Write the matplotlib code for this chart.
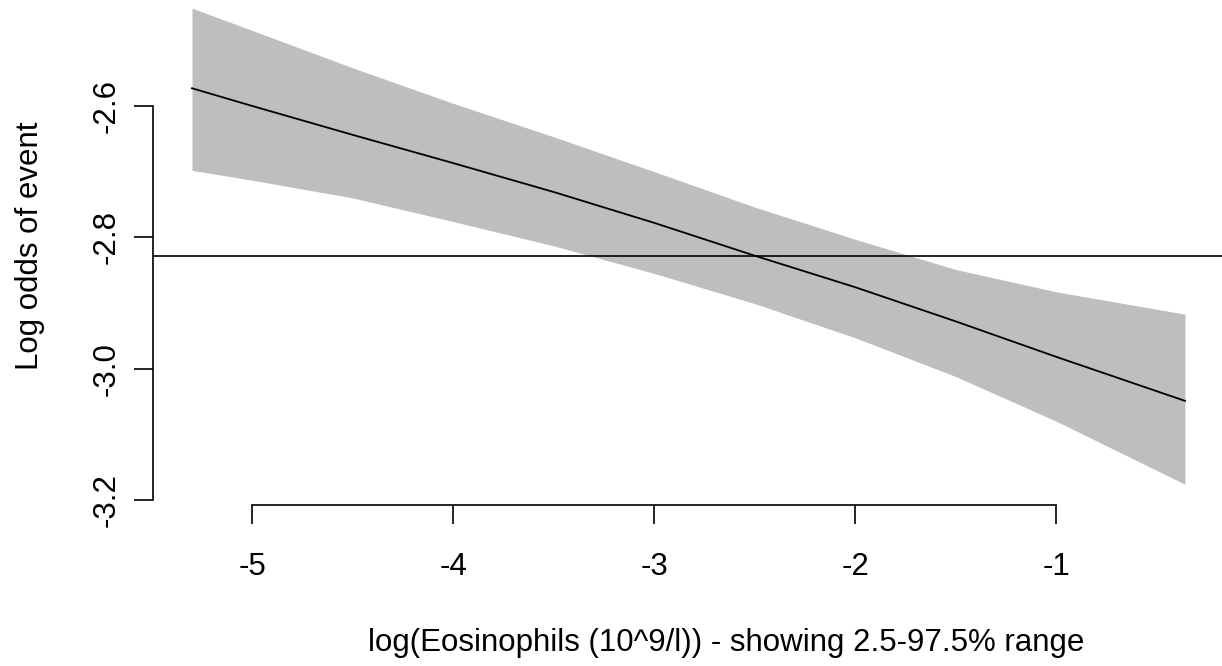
import matplotlib
matplotlib.use("Agg")
import matplotlib.pyplot as plt

# Data
x_vals = [-5.30, -5.00, -4.50, -4.00, -3.50, -3.00, -2.50, -2.00, -1.50, -1.00, -0.36]
fit = [-2.573, -2.600, -2.644, -2.687, -2.731, -2.778, -2.828, -2.876, -2.928, -2.982, -3.049]
upper = [-2.451, -2.485, -2.542, -2.596, -2.647, -2.700, -2.754, -2.803, -2.849, -2.883, -2.917]
lower = [-2.698, -2.713, -2.740, -2.776, -2.813, -2.855, -2.901, -2.953, -3.012, -3.080, -3.176]
ref_line = -2.8284
x_ticks = [-5, -4, -3, -2, -1]
x_ticklabels = ["-5", "-4", "-3", "-2", "-1"]
y_ticks = [-3.2, -3.0, -2.8, -2.6]
y_ticklabels = ["-3.2", "-3.0", "-2.8", "-2.6"]
xlabel = "log(Eosinophils (10^9/l)) - showing 2.5-97.5% range"
ylabel = "Log odds of event"

plt.rcParams['font.family'] = ['Liberation Sans', 'DejaVu Sans']
FS = 22.5

W, H = 1222, 666
fig = plt.figure(figsize=(W / 100, H / 100), dpi=100)

left_px, right_px, top_px, bottom_px = 152.6, 1222, 0, 505
ax = fig.add_axes([left_px / W, (H - bottom_px) / H,
                   (right_px - left_px) / W, (bottom_px - top_px) / H])

ax.fill_between(x_vals, lower, upper, color="#BEBEBE", linewidth=0)
ax.plot(x_vals, fit, color="black", linewidth=1.3)
ax.axhline(ref_line, color="black", linewidth=1.2)

ax.set_xlim(-5.496, -0.1756)
ax.set_ylim(-3.2076, -2.4386)

for s in ["top", "right"]:
    ax.spines[s].set_visible(False)
ax.spines["left"].set_bounds(min(y_ticks), max(y_ticks))
ax.spines["bottom"].set_bounds(min(x_ticks), max(x_ticks))
for s in ["left", "bottom"]:
    ax.spines[s].set_linewidth(1.2)

ax.set_xticks(x_ticks)
ax.set_xticklabels(x_ticklabels, fontsize=FS)
ax.set_yticks(y_ticks)
ax.set_yticklabels(y_ticklabels, fontsize=FS, rotation=90, va="center")
ax.tick_params(axis="both", direction="out", length=13.5, width=1.2)
ax.tick_params(axis="x", pad=20)
ax.tick_params(axis="y", pad=9)

fig.text(726 / W, 1 - 643 / H, xlabel, ha="center", va="center", fontsize=FS)
fig.text(30 / W, 1 - 246 / H, ylabel, ha="center", va="center", rotation=90, fontsize=FS)

fig.savefig("out.png", dpi=100, facecolor="white")
